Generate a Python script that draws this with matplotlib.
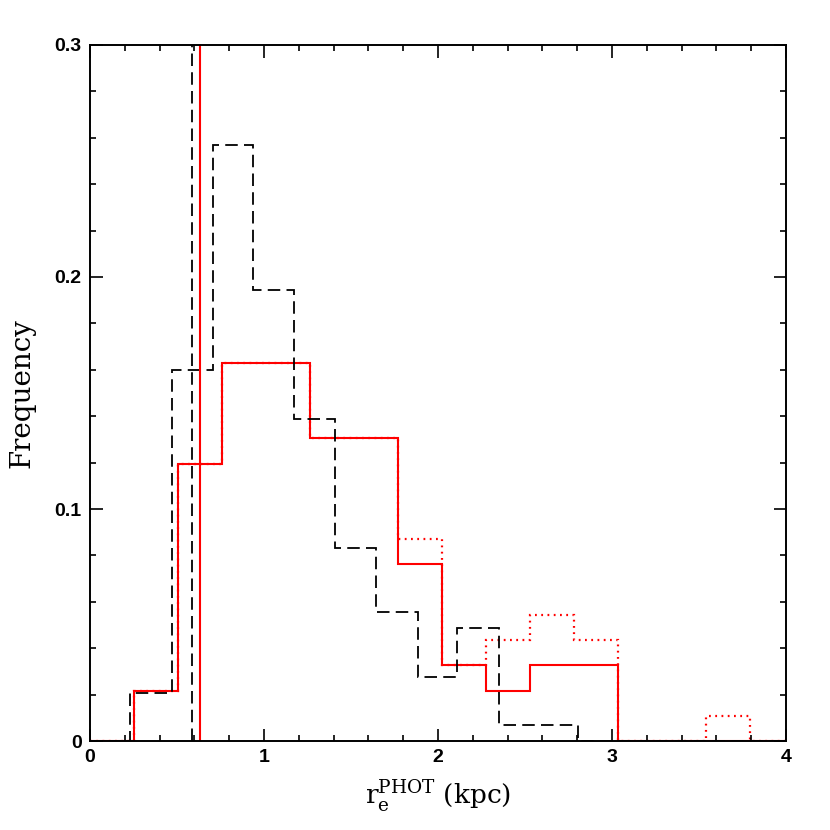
import matplotlib
matplotlib.use("Agg")
import matplotlib.pyplot as plt
from matplotlib.ticker import MultipleLocator, FixedLocator

plt.rcParams['lines.scale_dashes'] = False

# Red sample (solid) and red extended sample (dotted)
red_edges = [0, 0.253, 0.506, 0.759, 1.012, 1.265, 1.518, 1.771, 2.024,
             2.277, 2.53, 2.783, 3.036, 3.289, 3.542, 3.795, 4.0]
red_solid = [0, 0.0217, 0.1196, 0.1630, 0.1630, 0.1304, 0.1304, 0.0761,
             0.0326, 0.0217, 0.0326, 0.0326, 0, 0, 0, 0]
red_dotted = [0, 0.0217, 0.1196, 0.1630, 0.1630, 0.1304, 0.1304, 0.0870,
              0.0326, 0.0435, 0.0543, 0.0435, 0, 0, 0.0109, 0]

# Black comparison sample (dashed)
black_edges = [0, 0.232, 0.4696, 0.707, 0.937, 1.171, 1.41, 1.646, 1.883,
               2.111, 2.349, 2.58, 2.805, 4.0]
black_vals = [0, 0.0208, 0.1597, 0.2569, 0.1944, 0.1389, 0.0833, 0.0556,
              0.0278, 0.0486, 0.0069, 0.0069, 0]

red_median = 0.630
black_median = 0.588

x_ticks = [0, 1, 2, 3, 4]
x_ticklabels = ['0', '1', '2', '3', '4']
y_ticks = [0, 0.1, 0.2, 0.3]
y_ticklabels = ['0', '0.1', '0.2', '0.3']

fig = plt.figure(figsize=(8.3, 8.3), dpi=100)
ax = fig.add_axes([0.1084, 0.1072, 0.8386, 0.8386])

ax.stairs(red_dotted, red_edges, color='red', lw=1.6, linestyle=(0, (1.3, 3.2)))
ax.stairs(red_solid, red_edges, color='red', lw=1.5)
ax.stairs(black_vals, black_edges, color='black', lw=1.3, linestyle=(0, (9, 4.5)))
ax.axvline(red_median, color='red', lw=1.5)
ax.axvline(black_median, color='black', lw=1.3, linestyle=(0, (9, 4.5)))

ax.set_xlim(0, 4)
ax.set_ylim(0, 0.3)
ax.xaxis.set_major_locator(FixedLocator(x_ticks))
ax.xaxis.set_minor_locator(MultipleLocator(0.2))
ax.yaxis.set_major_locator(FixedLocator(y_ticks))
ax.yaxis.set_minor_locator(MultipleLocator(0.02))
ax.set_xticklabels(x_ticklabels)
ax.set_yticklabels(y_ticklabels)

ax.tick_params(which='both', direction='in', top=True, right=True, width=1.2)
ax.tick_params(which='major', length=9, pad=6)
ax.tick_params(which='minor', length=4.5)
for lab in ax.get_xticklabels() + ax.get_yticklabels():
    lab.set_fontweight('bold')
    lab.set_fontsize(14)
    lab.set_family('Liberation Sans')
for s in ax.spines.values():
    s.set_linewidth(1.4)

ax.set_xlabel(r'r$_\mathregular{e}^\mathregular{PHOT}$ (kpc)', family='DejaVu Serif', fontsize=19, labelpad=8)
ax.set_ylabel('Frequency', family='DejaVu Serif', fontsize=20, labelpad=14)

fig.savefig('out.png', dpi=100)
